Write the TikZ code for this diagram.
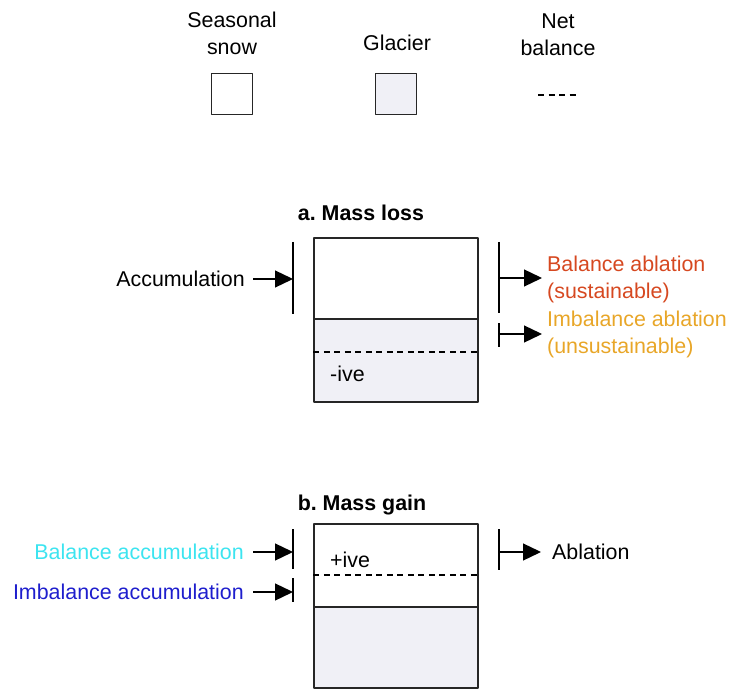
\documentclass[tikz,border=0pt]{standalone}
\usepackage{fontspec}
\setmainfont{Liberation Sans}
\usetikzlibrary{arrows.meta}
\definecolor{glacierfill}{RGB}{240,240,246}
\definecolor{balabl}{RGB}{214,72,32}
\definecolor{imbabl}{RGB}{232,166,40}
\definecolor{balacc}{RGB}{60,228,240}
\definecolor{imbacc}{RGB}{30,30,205}
\tikzset{
  lbl/.style={inner sep=0pt,font=\fontsize{21.4}{27}\selectfont},
  ttl/.style={inner sep=0pt,font=\fontsize{21.4}{27}\selectfont\bfseries},
  box/.style={draw=black!85,line width=1.3pt,inner sep=0pt},
  netline/.style={line width=1.1pt,dash pattern=on 6pt off 4.5pt},
  flux/.style={->,line width=1.3pt},
}
\begin{document}
\begin{tikzpicture}[x=1pt,y=-1pt,>={Triangle[length=18pt,width=17pt]},line join=bevel,]
\useasboundingbox (0,0) rectangle (732,690);
%%
\node (leg_snow_lbl) at (232,33) [lbl,align=center] {Seasonal\\snow};
  \node (leg_glac_lbl) at (397,43) [lbl] {Glacier};
  \node (leg_net_lbl) at (558,35) [lbl,align=center] {Net\\balance};
  \node (leg_snow) at (232,94) [box,fill=white,minimum size=41pt] {};
  \node (leg_glac) at (396,94) [box,fill=glacierfill,minimum size=41pt] {};
  \coordinate (leg_net_l) at (538,95);
  \coordinate (leg_net_r) at (577,95);
  \draw [netline,line width=1.4pt] (leg_net_l) -- (leg_net_r);
%
\node (a_title) at (361,213) [ttl] {a.\ Mass loss};
  \node (a_snow) at (396,278.5) [box,fill=white,minimum width=164pt,minimum height=81pt] {};
  \node (a_glac) at (396,360.5) [box,fill=glacierfill,minimum width=164pt,minimum height=83pt] {};
  \draw [netline] (a_glac.west |- 0,352) -- (a_glac.east |- 0,352);
  \node (a_neg) at (330,374) [lbl,anchor=west] {-ive};
  \node (a_acc_lbl) at (245,279) [lbl,anchor=east] {Accumulation};
  \node (a_bal_lbl) at (547,279.5) [lbl,anchor=west,align=left,text=balabl] {Balance ablation\\(sustainable)};
  \node (a_imb_lbl) at (547,334) [lbl,anchor=west,align=left,text=imbabl] {Imbalance ablation\\(unsustainable)};
  \coordinate (a_acc_br) at (293,279);
  \coordinate (a_bal_br) at (499,278);
  \coordinate (a_imb_br) at (499,334);
  \draw [line width=1.3pt] (293,242) -- (293,314);
  \draw [line width=1.3pt] (499,242) -- (499,313);
  \draw [line width=1.3pt] (499,323) -- (499,347);
  \draw [flux] ([xshift=8pt]a_acc_lbl.east) -- (a_acc_br);
  \draw [flux] (a_bal_br) -- ([xshift=-5pt]a_bal_br -| a_bal_lbl.west);
  \draw [flux] (a_imb_br) -- ([xshift=-5pt]a_imb_br -| a_imb_lbl.west);
%
\node (b_title) at (362,505) [ttl] {b.\ Mass gain};
  \node (b_snow) at (396,565.5) [box,fill=white,minimum width=164pt,minimum height=83pt] {};
  \node (b_glac) at (396,647.5) [box,fill=glacierfill,minimum width=164pt,minimum height=81pt] {};
  \draw [netline] (b_snow.west |- 0,575) -- (b_snow.east |- 0,575);
  \node (b_pos) at (330,560) [lbl,anchor=west] {+ive};
  \node (b_bal_lbl) at (244,552) [lbl,anchor=east,text=balacc] {Balance accumulation};
  \node (b_imb_lbl) at (244,592) [lbl,anchor=east,text=imbacc] {Imbalance accumulation};
  \node (b_abl_lbl) at (552,552) [lbl,anchor=west] {Ablation};
  \coordinate (b_bal_br) at (293,552);
  \coordinate (b_imb_br) at (293,592);
  \coordinate (b_abl_br) at (499,552);
  \draw [line width=1.3pt] (293,529) -- (293,569);
  \draw [line width=1.3pt] (293,578) -- (293,602);
  \draw [line width=1.3pt] (499,529) -- (499,570);
  \draw [flux] ([xshift=9pt]b_bal_lbl.east) -- (b_bal_br);
  \draw [flux] ([xshift=9pt]b_imb_lbl.east) -- (b_imb_br);
  \draw [flux] (b_abl_br) -- ([xshift=-11pt]b_abl_br -| b_abl_lbl.west);
%
\end{tikzpicture}
\end{document}
